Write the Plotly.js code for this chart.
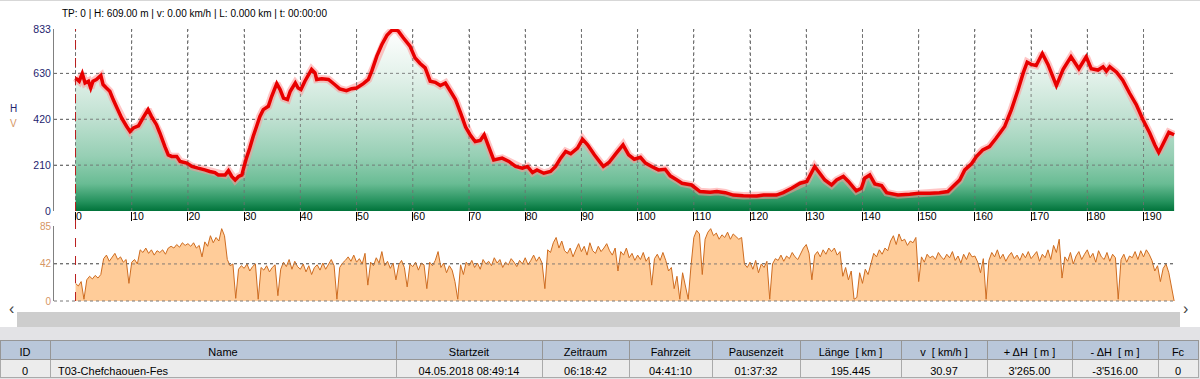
<!DOCTYPE html>
<html><head><meta charset="utf-8">
<script src="https://cdn.plot.ly/plotly-3.0.1.min.js"></script>
<style>html,body{margin:0;padding:0;background:#fff;overflow:hidden;} #chart{width:1200px;height:379px;}</style>
</head><body><div id="chart"></div>
<script>
// ---- Elevation profile (km, m) ----
const elevKm = [0,0.65,1.2,1.7,2.3,2.7,3.1,3.7,4.5,4.9,5.5,6.1,6.7,7.3,8.2,9.1,9.7,10.3,11.2,12.0,12.9,13.5,14.4,15.0,15.9,16.5,17.1,18.0,18.6,19.8,20.7,21.8,23.0,23.9,24.8,25.4,26.6,27.2,27.8,28.4,29.0,29.6,29.9,30.4,31.0,31.6,32.2,32.8,33.4,34.3,34.9,35.8,36.4,37.0,37.7,38.2,39.1,39.6,40.1,40.8,42.0,42.6,42.9,43.8,45.0,46.1,47.0,48.2,49.1,50.0,51.2,52.1,52.7,53.6,54.5,55.4,56.5,57.4,58.3,59.5,60.4,61.3,62.2,63.1,64.0,64.9,65.8,66.7,67.6,68.5,69.4,70.2,71.1,72.0,72.7,73.5,74.4,75.9,77.1,78.3,79.5,80.4,81.3,82.1,83.3,84.5,85.4,86.3,87.2,88.1,89.3,90.2,91.1,92.3,93.2,93.9,94.9,96.2,97.4,98.4,99.4,100.5,101.4,102.5,103.7,104.9,105.8,107.0,107.9,109.6,111.1,112.9,114.1,115.6,117.0,118.8,121.2,122.4,124.7,125.9,127.4,128.9,130.1,131.5,132.4,133.3,134.5,135.4,136.6,137.5,138.9,139.8,140.4,141.3,142.2,143.4,144.3,146.3,148.4,150.0,152.0,153.7,155.2,156.1,157.3,158.2,159.4,160.3,161.4,162.6,163.8,165.3,166.5,167.7,168.6,169.3,170.0,170.9,172.0,173.0,174.5,175.7,177.1,178.5,179.8,180.7,181.9,182.8,183.4,184.0,185.2,186.3,187.5,188.7,189.9,191.1,192.0,192.7,193.4,194.5,195.445];
const elevM = [609,594,629,586,594,563,594,602,620,579,563,548,510,476,426,387,364,380,390,426,464,433,395,357,295,257,250,250,227,219,204,196,188,181,176,165,165,185,158,142,158,165,196,242,288,341,387,433,464,479,525,583,556,517,510,548,586,563,556,594,648,632,602,605,602,579,559,551,560,563,583,602,640,709,762,804,833,824,793,755,701,675,655,594,589,574,586,548,510,449,384,349,318,323,349,295,234,242,227,204,196,204,176,188,173,181,204,242,273,262,288,329,303,257,227,204,222,265,303,257,237,246,219,204,188,191,161,142,127,119,89,86,89,84,73,70,69,73,73,84,104,127,135,204,173,142,119,142,158,135,92,104,150,165,124,116,84,73,77,81,81,84,89,112,142,188,216,250,280,295,334,387,464,556,632,681,671,666,721,671,574,648,706,651,706,651,645,660,640,660,635,599,540,487,418,357,303,268,303,360,349];

// ---- Speed profile (km, km/h) ----
const speedKm = [0,0.5,1,1.5,2,2.5,3,3.5,4,4.5,5,5.5,6,6.5,7,7.5,8,8.5,9,9.5,
10,10.5,11,11.5,12,12.5,13,13.5,14,14.5,15,15.5,16,16.5,17,17.5,18,18.5,19,19.5,
20,20.5,21,21.5,22,22.5,23,23.5,24,24.5,25,25.5,26,26.5,27,27.5,28,28.5,29,29.5,
30,30.5,31,31.5,32,32.5,33,33.5,34,34.5,35,35.5,36,36.5,37,37.5,38,38.5,39,39.5,
40,40.5,41,41.5,42,42.5,43,43.5,44,44.5,45,45.5,46,46.5,47,47.5,48,48.5,49,49.5,
50,50.5,51,51.5,52,52.5,53,53.5,54,54.5,55,55.5,56,56.5,57,57.5,58,58.5,59,59.5,
60,60.5,61,61.5,62,62.5,63,63.5,64,64.5,65,65.5,66,66.5,67,67.5,68,68.5,69,69.5,
70,70.5,71,71.5,72,72.5,73,73.5,74,74.5,75,75.5,76,76.5,77,77.5,78,78.5,79,79.5,
80,80.5,81,81.5,82,82.5,83,83.5,84,84.5,85,85.5,86,86.5,87,87.5,88,88.5,89,89.5,
90,90.5,91,91.5,92,92.5,93,93.5,94,94.5,95,95.5,96,96.5,97,97.5,98,98.5,99,99.5,
100,100.5,101,101.5,102,102.5,103,103.5,104,104.5,105,105.5,106,106.5,107,107.5,108,108.5,109,109.5,
110,110.5,111,111.5,112,112.5,113,113.5,114,114.5,115,115.5,116,116.5,117,117.5,118,118.5,119,119.5,
120,120.5,121,121.5,122,122.5,123,123.5,124,124.5,125,125.5,126,126.5,127,127.5,128,128.5,129,129.5,
130,130.5,131,131.5,132,132.5,133,133.5,134,134.5,135,135.5,136,136.5,137,137.5,138,138.5,139,139.5,
140,140.5,141,141.5,142,142.5,143,143.5,144,144.5,145,145.5,146,146.5,147,147.5,148,148.5,149,149.5,
150,150.5,151,151.5,152,152.5,153,153.5,154,154.5,155,155.5,156,156.5,157,157.5,158,158.5,159,159.5,
160,160.5,161,161.5,162,162.5,163,163.5,164,164.5,165,165.5,166,166.5,167,167.5,168,168.5,169,169.5,
170,170.5,171,171.5,172,172.5,173,173.5,174,174.5,175,175.5,176,176.5,177,177.5,178,178.5,179,179.5,
180,180.5,181,181.5,182,182.5,183,183.5,184,184.5,185,185.5,186,186.5,187,187.5,188,188.5,189,189.5,
190,190.5,191,191.5,192,192.5,193,193.5,194,194.5,195,195.445];
const speedKmh = [20,17,22,2,24,28,25,29,26,30, 48,52,45,50,54,47,50,44,47,20,
44,47,42,58,55,60,54,58,52,57, 55,58,53,60,62,60,64,61,66,63,
65,62,66,60,63,50,67,62,74,66, 72,68,82,74,47,40,42,3,36,40,
37,42,34,39,42,2,38,35,40,33, 38,41,6,36,44,39,47,36,45,39,
36,42,33,40,30,38,41,35,43,36, 42,47,40,2,38,43,46,50,45,52,
44,48,42,54,18,44,40,49,43,56, 40,45,37,43,24,41,46,38,16,42,
39,44,35,43,41,14,44,40,46,56, 38,43,32,40,35,22,2,41,30,44,
40,46,38,43,36,47,42,45,40,49, 43,47,38,44,41,48,44,39,46,42,
49,41,46,52,45,50,43,14,58,55, 66,72,60,68,57,54,60,50,58,65,
56,62,52,66,57,54,62,56,60,65, 57,52,60,34,56,52,60,49,54,46,
52,47,55,45,50,18,48,53,46,55, 46,34,38,14,28,2,32,18,2,40,
72,80,76,30,70,78,82,74,77,70, 75,72,78,70,76,73,70,72,42,38,
44,36,46,32,42,38,45,2,42,48, 46,52,45,51,48,55,50,47,54,60,
64,54,24,52,56,50,58,53,60,56, 60,52,56,28,38,24,34,2,4,32,
20,36,30,42,54,50,58,53,60,57, 68,74,64,76,68,70,63,68,66,72,
22,50,44,53,49,51,47,55,50,47, 53,49,56,46,51,43,53,47,55,50,
51,44,32,48,2,46,55,50,58,48, 53,45,51,55,48,52,46,54,49,56,
48,52,56,45,53,49,58,47,63,55, 70,26,50,45,55,42,51,56,47,53,
58,49,54,44,57,50,47,55,45,53, 49,2,47,53,44,51,49,56,47,57,
50,58,53,46,34,40,22,37,42,32, 15,0];

// ---- Axis ticks ----
const kmTicks = [0,10,20,30,40,50,60,70,80,90,100,110,120,130,140,150,160,170,180,190];
const elevTicks = [0,210,420,630,833];
const speedTicks = [0,42,85];

// ---- Texts ----
const infoText = 'TP: 0 | H: 609.00 m | v: 0.00 km/h | L: 0.000 km | t: 00:00:00';
const axisLetters = ['H','V'];
const tableHeaders = ['ID','Name','Startzeit','Zeitraum','Fahrzeit','Pausenzeit','Länge\u00a0\u00a0[ km ]','v\u00a0\u00a0[ km/h ]','+ ΔH\u00a0\u00a0[ m ]','- ΔH\u00a0\u00a0[ m ]','Fc'];
const tableRow = ['0','T03-Chefchaouen-Fes','04.05.2018 08:49:14','06:18:42','04:41:10','01:37:32','195.445','30.97','3\'265.00','-3\'516.00','0'];

// ---- helpers (pixel -> paper) ----
const W = 1200, H = 379;
const px = v => v / W;
const py = v => 1 - v / H;
const FONT = 'Liberation Sans, Arial, sans-serif';
const NAVY = 'rgb(30,36,110)';
const TAN = 'rgb(214,150,100)';
const GRID = 'rgba(110,110,110,0.85)';

const traces = [
  { x: elevKm, y: elevM, xaxis: 'x', yaxis: 'y', type: 'scatter', mode: 'lines',
    line: { color: 'rgba(255,150,150,0.55)', width: 7.5 },
    fill: 'tozeroy',
    fillgradient: { type: 'vertical', start: 0, stop: 833,
      colorscale: [[0, 'rgb(0,115,58)'], [0.05, 'rgb(35,145,92)'], [0.15, 'rgb(105,188,148)'], [0.3, 'rgb(150,207,180)'], [0.5, 'rgb(190,224,208)'], [0.75, 'rgb(228,242,235)'], [1, 'rgb(255,255,255)']] },
    hoverinfo: 'skip', showlegend: false },
  { x: speedKm, y: speedKmh, xaxis: 'x2', yaxis: 'y2', type: 'scatter', mode: 'lines',
    line: { color: 'rgb(206,108,32)', width: 1 },
    fill: 'tozeroy', fillcolor: 'rgb(255,204,153)', showlegend: false },
  { type: 'table',
    domain: { x: [0, px(1198)], y: [0, py(340)] },
    columnwidth: [50,346,146,87,83,88,101,86,85,86,40],
    header: { values: tableHeaders.map(h => [h]), align: 'center', height: 19,
      fill: { color: 'rgb(185,199,218)' }, line: { color: 'rgb(150,150,150)', width: 1 },
      font: { family: FONT, size: 11, color: '#000' } },
    cells: { values: tableRow.map(v => [v]),
      align: ['center','left','center','center','center','center','center','center','center','center','center'],
      height: 18, fill: { color: 'rgb(236,236,236)' }, line: { color: 'rgb(170,170,170)', width: 1 },
      font: { family: FONT, size: 11, color: '#000' } } }
];

const gridCommon = { showgrid: true, gridcolor: 'rgb(120,120,120)', griddash: 'dot', gridwidth: 1, zeroline: false };

// dotted grid drawn over the fills (as in the reference), from the tick arrays
const gridShapes = [];
kmTicks.forEach(k => gridShapes.push({ type: 'line', xref: 'x', yref: 'y', x0: k, x1: k, y0: elevTicks[0], y1: elevTicks[elevTicks.length - 1], line: { color: GRID, width: 1, dash: 'dot' }, layer: 'above' }));
elevTicks.slice(1, -1).forEach(v => gridShapes.push({ type: 'line', xref: 'x', yref: 'y', x0: -3.83, x1: 195.6, y0: v, y1: v, line: { color: GRID, width: 1, dash: 'dot' }, layer: 'above' }));
speedTicks.slice(1, -1).forEach(v => gridShapes.push({ type: 'line', xref: 'x2', yref: 'y2', x0: -3.83, x1: 195.6, y0: v, y1: v, line: { color: GRID, width: 1, dash: 'dot' }, layer: 'above' }));

const layout = {
  width: W, height: H,
  margin: { l: 0, r: 0, t: 0, b: 0 },
  paper_bgcolor: '#ffffff', plot_bgcolor: 'rgba(0,0,0,0)',
  font: { family: FONT },
  title: { text: infoText, x: px(62), xref: 'paper', xanchor: 'left', y: py(13), yref: 'paper', yanchor: 'middle',
    font: { family: FONT, size: 10, color: '#000' } },
  xaxis: Object.assign({}, gridCommon, {
    domain: [px(54), px(1175)], range: [-3.83, 195.6], anchor: 'y',
    tickmode: 'array', tickvals: kmTicks, ticktext: kmTicks.map(String),
    ticks: 'outside', ticklen: 9, tickcolor: '#000', tickwidth: 1,
    ticklabelposition: 'outside right', ticklabelstandoff: -5,
    tickfont: { family: FONT, size: 10.5, color: '#000' }, showline: false }),
  yaxis: Object.assign({}, gridCommon, {
    domain: [py(211), py(29)], range: [0, 833], anchor: 'x',
    tickmode: 'array', tickvals: elevTicks, ticktext: elevTicks.map(String),
    ticks: '', showline: true, linecolor: 'rgb(128,128,128)', linewidth: 1,
    tickfont: { family: FONT, size: 10.5, color: NAVY } }),
  xaxis2: { domain: [px(54), px(1175)], range: [-3.83, 195.6], anchor: 'y2',
    showgrid: false, zeroline: false, showticklabels: false, ticks: '', showline: false },
  yaxis2: Object.assign({}, gridCommon, {
    domain: [py(301), py(226)], range: [0, 85], anchor: 'x2',
    tickmode: 'array', tickvals: speedTicks, ticktext: speedTicks.map(String),
    ticks: '', showline: true, linecolor: 'rgb(128,128,128)', linewidth: 1,
    tickfont: { family: FONT, size: 10, color: TAN } }),
  shapes: [
    { type: 'rect', xref: 'paper', yref: 'paper', x0: 0, x1: 1, y0: 0, y1: py(327), line: { width: 0 }, fillcolor: 'rgb(227,227,230)', layer: 'below' },
    { type: 'rect', xref: 'paper', yref: 'paper', x0: px(17), x1: px(1180), y0: py(327), y1: py(312), line: { width: 0 }, fillcolor: 'rgb(205,205,205)', layer: 'below' },
    { type: 'line', xref: 'paper', yref: 'paper', x0: px(54), x1: px(1175), y0: py(301), y1: py(301), line: { color: 'rgb(120,120,120)', width: 1, dash: 'dot' } },
    { type: 'line', xref: 'paper', yref: 'paper', x0: 0, x1: 1, y0: py(0.5), y1: py(0.5), line: { color: 'rgb(215,215,215)', width: 1 } }
  ].concat(gridShapes).concat([
    // elevation line redrawn above the grid
    { type: 'path', xref: 'x', yref: 'y', layer: 'above',
      path: 'M' + elevKm.map((k, i) => k + ',' + elevM[i]).join('L'),
      line: { color: 'rgb(232,0,0)', width: 3.5 } },
    { type: 'line', xref: 'x', yref: 'paper', x0: elevKm[0], x1: elevKm[0], y0: py(301), y1: py(29), line: { color: 'rgb(185,30,30)', width: 1, dash: 'dash' }, layer: 'above' }
  ]),
  annotations: [
    { text: axisLetters[0], xref: 'paper', yref: 'paper', x: px(8), y: py(101), showarrow: false, font: { family: FONT, size: 10, color: NAVY } },
    { text: axisLetters[1], xref: 'paper', yref: 'paper', x: px(8), y: py(116), showarrow: false, font: { family: FONT, size: 10, color: TAN } },
    { text: '‹', xref: 'paper', yref: 'paper', x: px(7), y: py(319), showarrow: false, font: { family: FONT, size: 16, color: '#444' } },
    { text: '›', xref: 'paper', yref: 'paper', x: px(1190), y: py(319), showarrow: false, font: { family: FONT, size: 16, color: '#444' } }
  ]
};

Plotly.newPlot('chart', traces, layout, { staticPlot: true, displayModeBar: false });
</script>
</body></html>
